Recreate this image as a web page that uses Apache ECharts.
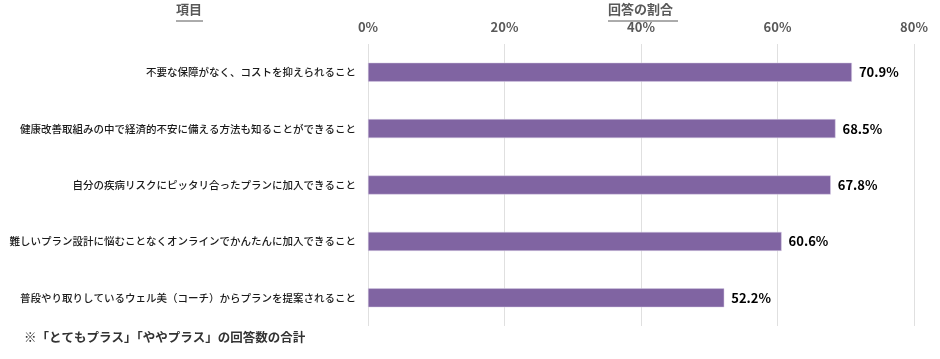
<!DOCTYPE html>
<html><head><meta charset="utf-8">
<script src="https://cdn.jsdelivr.net/npm/echarts@6/dist/echarts.min.js"></script>
<style>html,body{margin:0;padding:0;background:#fff}#c{width:940px;height:359px}</style>
</head><body><div id="c"></div>
<script>
const categories = [
  '不要な保障がなく、コストを抑えられること',
  '健康改善取組みの中で経済的不安に備える方法も知ることができること',
  '自分の疾病リスクにピッタリ合ったプランに加入できること',
  '難しいプラン設計に悩むことなくオンラインでかんたんに加入できること',
  '普段やり取りしているウェル美（コーチ）からプランを提案されること'
];
const values = [70.9, 68.5, 67.8, 60.6, 52.2];
const axisTicks = [0, 20, 40, 60, 80];
const headerLeft = '項目';
const headerRight = '回答の割合';
const footnote = '※「とてもプラス」「ややプラス」の回答数の合計';

const FONT = '"Noto Sans CJK JP", sans-serif';
const chart = echarts.init(document.getElementById('c'));
chart.setOption({
  animation: false,
  textStyle: { fontFamily: FONT },
  grid: { left: 368, right: 26, top: 44, bottom: 33, containLabel: false, outerBoundsMode: 'none' },
  xAxis: {
    type: 'value', position: 'top', min: axisTicks[0], max: axisTicks[axisTicks.length - 1], interval: 20,
    axisLine: { show: false }, axisTick: { show: false },
    axisLabel: { formatter: v => v + '%', color: '#595959', fontSize: 13, fontWeight: 'bold', margin: 10, fontFamily: FONT },
    splitLine: { lineStyle: { color: '#e0e0e0', width: 1 } }
  },
  yAxis: {
    type: 'category', data: categories, inverse: true,
    axisLine: { show: false }, axisTick: { show: false },
    axisLabel: { color: '#1a1a1a', fontSize: 10.5, fontWeight: 500, margin: 12, fontFamily: FONT }
  },
  series: [{
    type: 'bar', data: values, barWidth: 19,
    itemStyle: { color: '#8064A2', borderColor: '#d9cfe6', borderWidth: 0.5 },
    label: { show: true, position: 'right', distance: 7, formatter: p => p.value.toFixed(1) + '%', color: '#000', fontSize: 13, fontWeight: 'bold', fontFamily: FONT }
  }],
  graphic: [
    { type: 'text', left: 176, top: 3, style: { text: headerLeft, font: 'bold 13px ' + FONT, fill: '#595959' } },
    { type: 'line', shape: { x1: 176, y1: 21, x2: 203, y2: 21 }, style: { stroke: '#595959', lineWidth: 1 } },
    { type: 'text', left: 608, top: 3, style: { text: headerRight, font: 'bold 13px ' + FONT, fill: '#595959' } },
    { type: 'line', shape: { x1: 608, y1: 21, x2: 678, y2: 21 }, style: { stroke: '#595959', lineWidth: 1 } },
    { type: 'text', left: 24, top: 331, style: { text: footnote, font: 'bold 12.5px ' + FONT, fill: '#333' } }
  ]
});
</script></body></html>
